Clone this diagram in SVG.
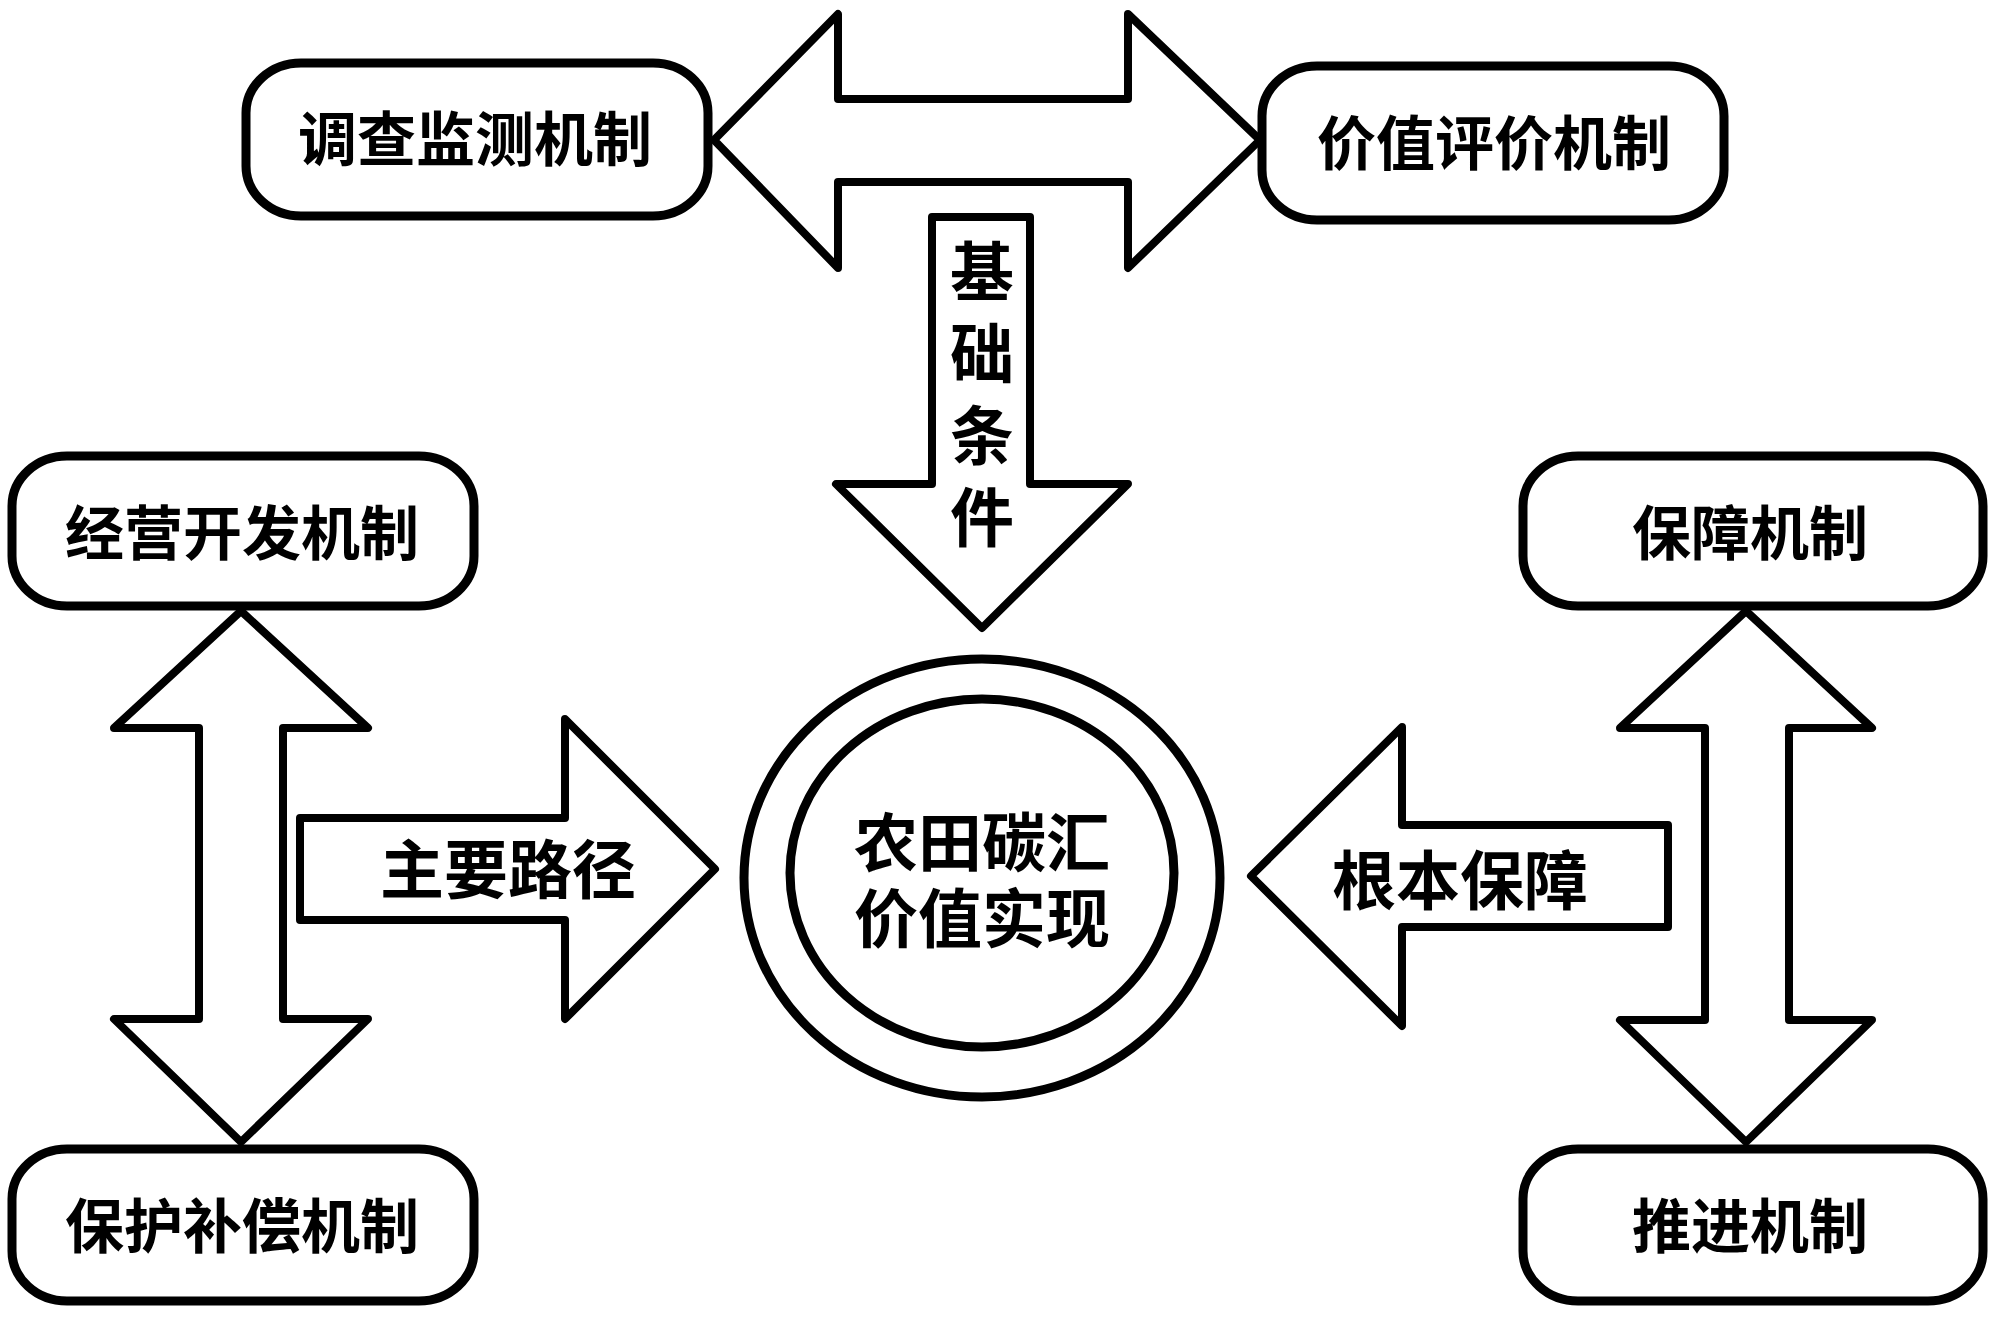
<svg xmlns="http://www.w3.org/2000/svg" width="1999" height="1321" viewBox="0 0 1999 1321">
<style>
.box{fill:#fff;stroke:#000;stroke-width:9}
.arr{fill:#fff;stroke:#000;stroke-width:8;stroke-linejoin:round}
.t{font-family:"Noto Sans CJK SC","Noto Sans",sans-serif;font-weight:700;fill:#000;text-anchor:middle;dominant-baseline:central}
.tb{font-size:59px}
.ta{font-size:64px}
.v{writing-mode:vertical-rl;letter-spacing:18px}
</style>
<rect width="1999" height="1321" fill="#fff"/>
<g id="connectors">
<polygon class="arr" points="714,140 838,14 838,99 1128,99 1128,14 1260,140 1128,268 1128,182 838,182 838,268"/>
<polygon class="arr" points="932,217 1030,217 1030,484 1128,484 982,628 836,484 932,484"/>
<polygon class="arr" points="241,611 368,728 283,728 283,1019 368,1019 241,1142 114,1019 199,1019 199,728 114,728"/>
<polygon class="arr" points="300,818 565,818 565,719 715,869 565,1019 565,920 300,920"/>
<polygon class="arr" points="1746,611 1872,728 1789,728 1789,1020 1872,1020 1746,1142 1620,1020 1705,1020 1705,728 1620,728"/>
<polygon class="arr" points="1668,825 1402,825 1402,727 1251,876 1402,1026 1402,927 1668,927"/>
<text class="t ta v" x="982" y="403">基础条件</text>
<text class="t ta" x="508" y="865">主要路径</text>
<text class="t ta" x="1460" y="876">根本保障</text>
</g>
<g id="node-survey">
<rect class="box" x="246" y="63" width="462" height="153" rx="55" ry="50"/>
<text class="t tb" x="475" y="135">调查监测机制</text>
</g>
<g id="node-evaluation">
<rect class="box" x="1262" y="66" width="462" height="154" rx="55" ry="50"/>
<text class="t tb" x="1494" y="139">价值评价机制</text>
</g>
<g id="node-operation">
<rect class="box" x="12" y="456" width="462" height="150" rx="55" ry="50"/>
<text class="t tb" x="242" y="529">经营开发机制</text>
</g>
<g id="node-compensation">
<rect class="box" x="12" y="1149" width="462" height="152" rx="55" ry="50"/>
<text class="t tb" x="242" y="1222">保护补偿机制</text>
</g>
<g id="node-guarantee">
<rect class="box" x="1523" y="456" width="460" height="150" rx="55" ry="50"/>
<text class="t tb" x="1750" y="529">保障机制</text>
</g>
<g id="node-promotion">
<rect class="box" x="1523" y="1149" width="460" height="152" rx="55" ry="50"/>
<text class="t tb" x="1750" y="1222">推进机制</text>
</g>
<g id="node-center">
<ellipse class="box" cx="982" cy="878" rx="238" ry="219"/>
<ellipse class="box" cx="982" cy="873" rx="192" ry="174"/>
<text class="t ta"><tspan x="982" y="838">农田碳汇</tspan><tspan x="982" y="914">价值实现</tspan></text>
</g>
</svg>
